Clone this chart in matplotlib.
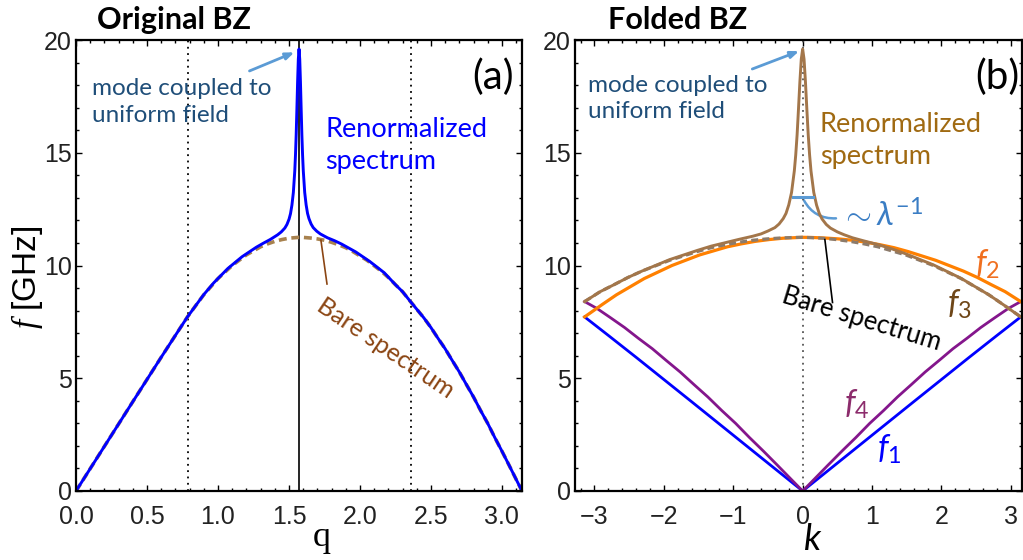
import numpy as np
import matplotlib
matplotlib.use("Agg")
import matplotlib.pyplot as plt
from matplotlib.patches import FancyArrowPatch

plt.rcParams['font.family'] = ['Lato', 'DejaVu Sans']
plt.rcParams['mathtext.fontset'] = 'custom'
plt.rcParams['mathtext.it'] = 'Lato:italic'
plt.rcParams['mathtext.rm'] = 'Lato'
plt.rcParams['mathtext.sf'] = 'Liberation Serif:italic'

# ---- data ----
# original BZ, bare spectrum (dashed)
q_bare = [0.0, 0.2, 0.4, 0.6, 0.7, 0.785, 0.85, 0.9, 1.0, 1.1, 1.2, 1.3, 1.35, 1.4,
          1.45, 1.5, 1.571, 1.6, 1.65, 1.7, 1.75, 1.8, 1.85, 1.9, 1.95, 2.05, 2.15,
          2.2, 2.25, 2.3, 2.356, 2.45, 2.5, 2.55, 2.6, 2.65, 2.7, 2.75, 2.8, 2.85,
          2.9, 2.95, 3.0, 3.05, 3.1, 3.1416]
f_bare = [0.0, 1.98, 3.96, 5.93, 6.9, 7.72, 8.28, 8.7, 9.42, 10.0, 10.47, 10.83, 10.96, 11.07,
          11.15, 11.21, 11.25, 11.245, 11.22, 11.18, 11.12, 11.03, 10.92, 10.79, 10.62, 10.23, 9.75,
          9.47, 9.15, 8.84, 8.4, 7.68, 7.25, 6.77, 6.31, 5.79, 5.28, 4.72, 4.17, 3.57,
          3.0, 2.37, 1.77, 1.15, 0.52, 0.0]

# original BZ, renormalized spectrum
q_ren = [0.0, 0.2, 0.4, 0.6, 0.7, 0.785, 0.85, 0.9, 0.97, 1.07, 1.17, 1.27, 1.32, 1.37,
         1.42, 1.446, 1.471, 1.486, 1.501, 1.511, 1.521, 1.531, 1.541, 1.546, 1.551,
         1.556, 1.561, 1.566, 1.571, 1.576, 1.581, 1.586, 1.591, 1.596, 1.601, 1.611,
         1.621, 1.631, 1.641, 1.656, 1.671, 1.696, 1.721, 1.771, 1.821, 1.871, 1.971,
         2.071, 2.171, 2.25, 2.3, 2.356, 2.45, 2.5, 2.55, 2.6, 2.65, 2.7, 2.75, 2.8,
         2.85, 2.9, 2.95, 3.0, 3.05, 3.1, 3.1416]
f_ren = [0.0, 1.98, 3.96, 5.93, 6.9, 7.72, 8.28, 8.71, 9.23, 9.87, 10.39, 10.81, 10.99, 11.16,
         11.36, 11.49, 11.66, 11.82, 12.06, 12.3, 12.68, 13.24, 14.19, 14.9, 15.8,
         16.95, 18.15, 19.15, 19.6, 19.15, 18.15, 16.95, 15.8, 14.9, 14.2, 13.24,
         12.69, 12.31, 12.08, 11.84, 11.68, 11.52, 11.4, 11.23, 11.1, 10.95, 10.6,
         10.17, 9.68, 9.15, 8.84, 8.4, 7.68, 7.25, 6.77, 6.31, 5.79, 5.28, 4.72, 4.17,
         3.57, 3.0, 2.37, 1.77, 1.15, 0.52, 0.0]

# folded BZ bands
k_f1 = [-3.1416, -2.8, -2.4, -1.6, -0.8, 0.0, 0.8, 1.6, 2.4, 2.8, 3.1416]
f1 = [7.72, 6.9, 5.93, 3.96, 1.98, 0.0, 1.98, 3.96, 5.93, 6.9, 7.72]

k_f4 = [-3.1416, -2.966, -2.766, -2.566, -2.366, -2.166, -1.966, -1.766, -1.566,
        -1.366, -1.166, -0.966, -0.766, -0.566, -0.366, -0.166, 0.0,
        0.166, 0.366, 0.566, 0.766, 0.966, 1.166, 1.366, 1.566,
        1.766, 1.966, 2.166, 2.366, 2.566, 2.766, 2.966, 3.1416]
f4 = [8.4, 8.1, 7.68, 7.25, 6.77, 6.31, 5.79, 5.28, 4.72,
      4.17, 3.57, 3.0, 2.37, 1.77, 1.15, 0.52, 0.0,
      0.52, 1.15, 1.77, 2.37, 3.0, 3.57, 4.17, 4.72,
      5.28, 5.79, 6.31, 6.77, 7.25, 7.68, 8.1, 8.4]

k_f2 = [-3.1416, -2.883, -2.683, -2.283, -1.883, -1.483, -1.083, -0.883, -0.683,
        -0.483, -0.283, 0.0, 0.117, 0.317, 0.517, 0.717, 0.917, 1.117, 1.317,
        1.517, 1.917, 2.317, 2.517, 2.717, 2.917, 3.1416]
f2 = [7.72, 8.28, 8.7, 9.42, 10.0, 10.47, 10.83, 10.96, 11.07,
      11.15, 11.21, 11.25, 11.245, 11.22, 11.18, 11.12, 11.03, 10.92, 10.79,
      10.62, 10.23, 9.75, 9.47, 9.15, 8.84, 8.4]

k_bare_r = [-3.1416, -2.917, -2.717, -2.517, -2.317, -1.917, -1.517, -1.317, -1.117,
            -0.917, -0.717, -0.517, -0.317, -0.117, 0.0, 0.283, 0.483, 0.683, 0.883,
            1.083, 1.483, 1.883, 2.283, 2.683, 2.883, 3.1416]
f_bare_r = [8.4, 8.84, 9.15, 9.47, 9.75, 10.23, 10.62, 10.79, 10.92,
            11.03, 11.12, 11.18, 11.22, 11.245, 11.25, 11.21, 11.15, 11.07, 10.96,
            10.83, 10.47, 10.0, 9.42, 8.7, 8.28, 7.72]

k_f3 = [-3.1416, -2.917, -2.717, -2.517, -2.317, -1.917, -1.517, -1.317, -1.117,
        -0.917, -0.717, -0.6, -0.5, -0.4, -0.34, -0.28, -0.24, -0.2, -0.16, -0.12,
        -0.1, -0.08, -0.06, -0.04, -0.02, 0.0, 0.02, 0.04, 0.06, 0.08, 0.1, 0.12,
        0.16, 0.2, 0.24, 0.28, 0.34, 0.4, 0.5, 0.6, 0.717, 0.883, 1.083, 1.283,
        1.483, 1.883, 2.283, 2.683, 2.883, 3.1416]
f3 = [8.4, 8.84, 9.15, 9.47, 9.75, 10.26, 10.67, 10.86, 11.01,
      11.16, 11.3, 11.4, 11.53, 11.68, 11.84, 12.08, 12.31, 12.69, 13.24, 14.2,
      14.9, 15.8, 16.95, 18.15, 19.15, 19.6, 19.15, 18.15, 16.95, 15.8, 14.9, 14.19,
      13.24, 12.68, 12.3, 12.06, 11.82, 11.66, 11.49, 11.36, 11.23, 11.09, 10.93, 10.74,
      10.52, 10.03, 9.43, 8.7, 8.28, 7.72]

# ---- figure ----
W, H = 1023, 560
fig = plt.figure(figsize=(W / 100, H / 100), dpi=100)
axL = fig.add_axes([76 / W, 1 - 491 / H, (522 - 76) / W, 451 / H])
axR = fig.add_axes([575 / W, 1 - 491 / H, (1022 - 575) / W, 451 / H])

blue = '#0000FF'
orange = '#FF8000'
purple = '#84168C'
brown = '#A3764A'

for ax in (axL, axR):
    ax.set_ylim(0, 20)
    ax.set_yticks([0, 5, 10, 15, 20])
    ax.set_yticks(np.arange(0, 21, 1), minor=True)
    ax.tick_params(which='both', direction='in', top=True, right=True,
                   labelsize=18, labelcolor='#222222', width=1.0)
    ax.tick_params(which='major', length=4.5, pad=3)
    ax.tick_params(which='minor', length=2.5)
    ax.tick_params(axis='x', which='major', pad=10)
    for s in ax.spines.values():
        s.set_linewidth(1.6)

# left panel
axL.set_xlim(0, np.pi)
axL.set_xticks([0.0, 0.5, 1.0, 1.5, 2.0, 2.5, 3.0])
axL.set_xticklabels(['0.0', '0.5', '1.0', '1.5', '2.0', '2.5', '3.0'], family='Liberation Sans')
axL.set_xticks(np.arange(0, 3.15, 0.1), minor=True)
axL.set_yticklabels(['0', '5', '10', '15', '20'], family='Liberation Sans')

axL.axvline(np.pi / 4, color='k', lw=1.3, ls=(0, (1, 2.5)))
axL.axvline(3 * np.pi / 4, color='k', lw=1.3, ls=(0, (1, 2.5)))
axL.axvline(np.pi / 2, color='k', lw=1.2)
axL.plot(q_bare, f_bare, color='#A8824F', lw=2.6, ls=(0, (2.2, 1.3)))
axL.plot(q_ren, f_ren, color=blue, lw=2.1)

axL.text(0.113, 17.25, 'mode coupled to\nuniform field', color='#1F4E79',
         fontsize=17.5, ha='left', va='center', linespacing=1.3)
axL.annotate('', xy=(1.556, 19.5), xytext=(1.204, 18.58),
             arrowprops=dict(arrowstyle='-|>,head_length=0.5,head_width=0.2',
                             color='#5B9BD5', lw=2))
axL.text(1.754, 15.34, 'Renormalized\nspectrum', color=blue, fontsize=19.5,
         ha='left', va='center', linespacing=1.35)
axL.text(3.08, 18.36, '(a)', fontsize=29, ha='right', va='center')
axL.plot([1.725, 1.768], [11.13, 9.18], color='#8B4513', lw=1.2)
axL.text(2.18, 6.34, 'Bare spectrum', color='#8B4513', fontsize=18,
         rotation=-34, ha='center', va='center', rotation_mode='anchor')

# right panel
axR.set_xlim(-3.28, 3.16)
axR.set_xticks([-3, -2, -1, 0, 1, 2, 3])
axR.set_xticklabels(['\u22123', '\u22122', '\u22121', '0', '1', '2', '3'], family='Liberation Sans')
axR.set_xticks(np.arange(-3.2, 3.2, 0.2), minor=True)
axR.set_yticklabels(['0', '5', '10', '15', '20'], family='Liberation Sans')

axR.axvline(0, color='#555555', lw=1.3, ls=(0, (1, 2.5)))
axR.plot(k_f1, f1, color=blue, lw=2.0)
axR.plot(k_f4, f4, color=purple, lw=2.0)
axR.plot(k_f2, f2, color=orange, lw=2.3)
axR.plot(k_bare_r, f_bare_r, color='#8C7B6B', lw=2.3, ls=(0, (2.2, 1.3)))
axR.plot(k_f3, f3, color=brown, lw=2.1)

axR.text(-3.09, 17.39, 'mode coupled to\nuniform field', color='#1F4E79',
         fontsize=17.5, ha='left', va='center', linespacing=1.3)
axR.annotate('', xy=(-0.014, 19.55), xytext=(-0.763, 18.67),
             arrowprops=dict(arrowstyle='-|>,head_length=0.5,head_width=0.2',
                             color='#5B9BD5', lw=2))
axR.text(0.245, 15.53, 'Renormalized\nspectrum', color='#A06A12', fontsize=19.5,
         ha='left', va='center', linespacing=1.35)
axR.text(3.12, 18.36, '(b)', fontsize=29, ha='right', va='center')

axR.plot([-0.145, 0.145], [13.05, 13.05], color='#5B9BD5', lw=2.2)
axR.add_patch(FancyArrowPatch((0.0, 13.0), (0.52, 12.1), arrowstyle='-',
                              connectionstyle='arc3,rad=0.35', color='#5B9BD5', lw=1.8))
axR.text(0.54, 12.17, r'$\sim\lambda^{-1}$', color='#3A7DC4', fontsize=24,
         ha='left', va='center')

axR.plot([0.32, 0.43], [11.15, 8.36], color='k', lw=1.2)
axR.text(0.85, 7.61, 'Bare spectrum', color='k', fontsize=18.5,
         rotation=-17, ha='center', va='center', rotation_mode='anchor')

axR.text(2.66, 10.04, r'$f_2$', color='#F07020', fontsize=24, ha='center', va='center')
axR.text(2.26, 8.27, r'$f_3$', color='#6E4618', fontsize=24, ha='center', va='center')
axR.text(0.78, 3.85, r'$f_4$', color='#8C2C6C', fontsize=24, ha='center', va='center')
axR.text(1.25, 1.86, r'$f_1$', color=blue, fontsize=24, ha='center', va='center')

# titles and axis labels
fig.text(97 / W, 1 - 20 / H, 'Original BZ', fontsize=22, fontweight='bold', ha='left', va='center')
fig.text(608 / W, 1 - 20 / H, 'Folded BZ', fontsize=22, fontweight='bold', ha='left', va='center')
fig.text(27 / W, 1 - 277 / H, r'$\mathsf{f}$ [GHz]', fontsize=24, rotation=90,
         ha='center', va='center', family='Liberation Sans')
fig.text(322 / W, 1 - 538 / H, 'q', fontsize=26, ha='center', va='center', family='Liberation Serif')
fig.text(813 / W, 1 - 540 / H, 'k', fontsize=26, ha='center', va='center', style='italic')

fig.savefig('out.png', dpi=100)
